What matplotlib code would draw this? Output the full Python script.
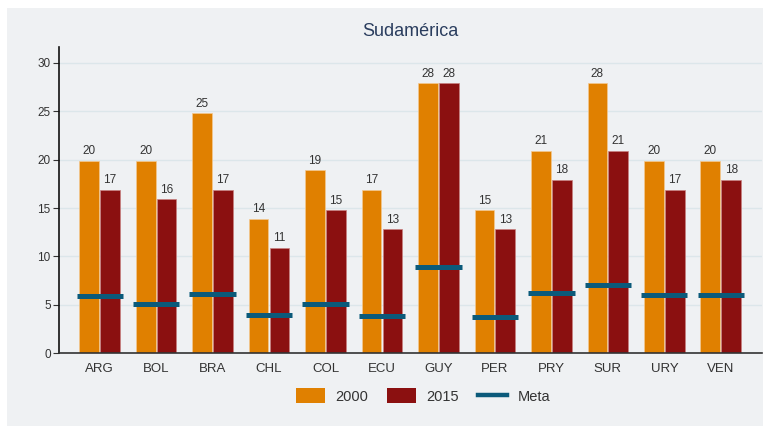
import matplotlib
matplotlib.use("Agg")
import matplotlib.pyplot as plt
from matplotlib.patches import Rectangle, Patch
from matplotlib.lines import Line2D
import numpy as np

plt.rcParams['font.family'] = ['Liberation Sans', 'DejaVu Sans']

countries = ["ARG", "BOL", "BRA", "CHL", "COL", "ECU", "GUY", "PER", "PRY", "SUR", "URY", "VEN"]
v2000 = [19.9, 19.9, 24.8, 13.9, 18.9, 16.9, 27.9, 14.8, 20.9, 27.9, 19.9, 19.9]
v2015 = [16.9, 15.9, 16.9, 10.9, 14.8, 12.8, 27.9, 12.8, 17.9, 20.9, 16.9, 17.9]
lab2000 = [20, 20, 25, 14, 19, 17, 28, 15, 21, 28, 20, 20]
lab2015 = [17, 16, 17, 11, 15, 13, 28, 13, 18, 21, 17, 18]
meta = [5.9, 5.1, 6.1, 4.0, 5.1, 3.9, 8.9, 3.7, 6.2, 7.1, 6.0, 6.0]
yticks = [0, 5, 10, 15, 20, 25, 30]

c2000 = "#E08000"
c2015 = "#8B1010"
cmeta = "#0B5A7A"
bg = "#EFF1F3"
txt = "#333333"

fig = plt.figure(figsize=(7.63, 4.30), dpi=100, facecolor="white")
fig.patches.append(Rectangle((7/763, 4/430), 1 - 7/763, 1 - 12/430, transform=fig.transFigure,
                             facecolor=bg, edgecolor="none", zorder=-10))
ax = fig.add_axes([59/763, 76.7/430, (762-59)/763, (353.3-47.3)/430])
ax.set_facecolor(bg)

x = np.arange(len(countries))
w = 0.35
off = 0.185
ax.bar(x - off, v2000, width=w, color=c2000, edgecolor="#f3c890", linewidth=0.5, zorder=2)
ax.bar(x + off, v2015, width=w, color=c2015, edgecolor="#c88080", linewidth=0.5, zorder=2)
ax.hlines(meta, x - 0.41, x + 0.41, colors=cmeta, linewidth=3.6, zorder=3)

for xi, v, l in zip(x - off, v2000, lab2000):
    ax.annotate(str(l), (xi, v), xytext=(0, 2.5), textcoords="offset points",
                ha="center", va="bottom", fontsize=8.5, color=txt)
for xi, v, l in zip(x + off, v2015, lab2015):
    ax.annotate(str(l), (xi, v), xytext=(0, 2.5), textcoords="offset points",
                ha="center", va="bottom", fontsize=8.5, color=txt)

ax.set_xlim(-0.72, 11.73)
ax.set_ylim(0, 31.6)
ax.set_yticks(yticks)
ax.set_xticks(x)
ax.set_xticklabels(countries, fontsize=9.5, color=txt)
ax.tick_params(axis="x", length=0, pad=7)
ax.tick_params(axis="y", length=4, width=0.8, labelsize=8.5, colors=txt, pad=2)
ax.yaxis.grid(True, color="#DCE6EA", linewidth=1, zorder=0)
ax.set_axisbelow(True)
for s in ["top", "right"]:
    ax.spines[s].set_visible(False)
ax.spines["left"].set_color("#111111")
ax.spines["bottom"].set_color("#333333")
ax.spines["left"].set_linewidth(1.2)
ax.spines["bottom"].set_linewidth(1.2)

fig.text(410/763, 1 - 32/430, "Sudamérica", ha="center", va="center", fontsize=13, color="#2A3D5E")

handles = [Patch(facecolor=c2000, edgecolor="none", label="2000"),
           Patch(facecolor=c2015, edgecolor="none", label="2015"),
           Line2D([0], [0], color=cmeta, linewidth=3.2, label="Meta")]
fig.legend(handles=handles, loc="center", bbox_to_anchor=(423/763, 1 - 396/430), ncol=3,
           frameon=False, fontsize=10.5, handlelength=2.0, handleheight=1.2,
           columnspacing=1.3, handletextpad=0.7, labelcolor=txt)

fig.savefig("out.png", dpi=100, facecolor="white")
